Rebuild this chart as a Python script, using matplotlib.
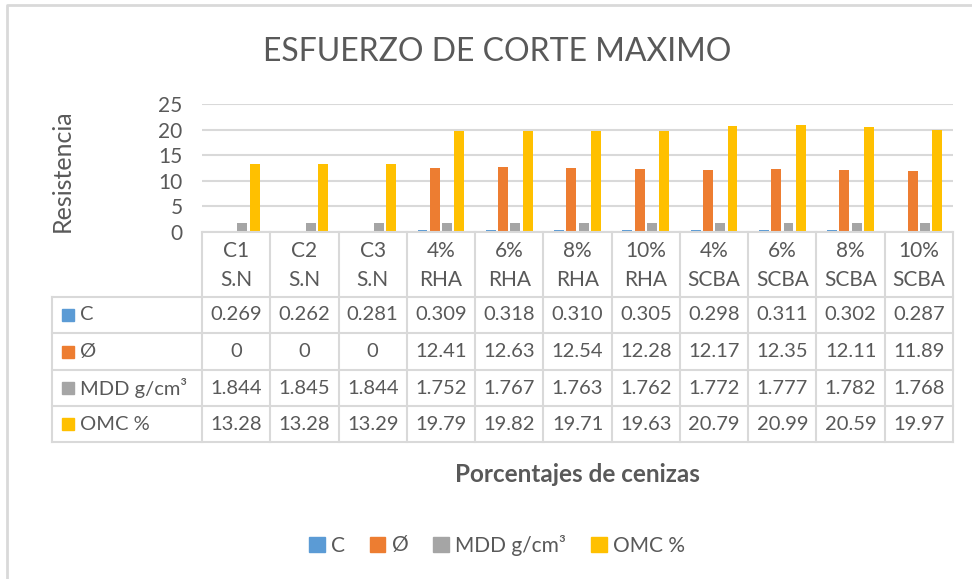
import matplotlib.pyplot as plt
from matplotlib.lines import Line2D
from matplotlib.patches import Rectangle
import numpy as np

plt.rcParams['font.family'] = ['Lato', 'DejaVu Sans']

# data
categories = ["C1\nS.N", "C2\nS.N", "C3\nS.N", "4%\nRHA", "6%\nRHA", "8%\nRHA", "10%\nRHA",
              "4%\nSCBA", "6%\nSCBA", "8%\nSCBA", "10%\nSCBA"]
c_vals = [0.269, 0.262, 0.281, 0.309, 0.318, 0.310, 0.305, 0.298, 0.311, 0.302, 0.287]
phi_vals = [0, 0, 0, 12.41, 12.63, 12.54, 12.28, 12.17, 12.35, 12.11, 11.89]
mdd_vals = [1.844, 1.845, 1.844, 1.752, 1.767, 1.763, 1.762, 1.772, 1.777, 1.782, 1.768]
omc_vals = [13.28, 13.28, 13.29, 19.79, 19.82, 19.71, 19.63, 20.79, 20.99, 20.59, 19.97]

series_names = ["C", "Ø", "MDD g/cm³", "OMC %"]
series_vals = [c_vals, phi_vals, mdd_vals, omc_vals]
series_fmt = ["{:.3f}", "{:g}", "{:.3f}", "{:.2f}"]
colors = ["#5b9bd5", "#ed7d31", "#a5a5a5", "#ffc000"]

W, H = 972, 579
txt = "#595959"
grid = "#d9d9d9"

def fx(px):
    return px / W

def fy(py):
    return 1 - py / H

fig = plt.figure(figsize=(W / 100, H / 100), dpi=100)

x_left, x_right = 202, 953
y_top, y_zero = 104, 232
ax = fig.add_axes([fx(x_left), fy(y_zero), (x_right - x_left) / W, (y_zero - y_top) / H])

x = np.arange(len(categories))
bw = 0.145
step = 0.18
for k, (vals, col) in enumerate(zip(series_vals, colors)):
    ax.bar(x + (k - 1.5) * step, vals, width=bw, color=col, zorder=3)

ax.set_xlim(-0.5, len(categories) - 0.5)
ax.set_ylim(0, 25)
ax.set_yticks([0, 5, 10, 15, 20, 25])
ax.yaxis.grid(True, color=grid, linewidth=1.5, zorder=0)
ax.set_xticks([])
ax.tick_params(axis='y', length=0, labelsize=15, labelcolor=txt, pad=14)
for s in ax.spines.values():
    s.set_visible(False)
fig.text(fx(62), fy(171), "Resistencia", rotation=90, ha='center', va='center',
         fontsize=18, color=txt)

# table drawn in figure pixel coords
colw = (x_right - x_left) / len(categories)
tab_left = 52
row_edges = [297, 333, 370, 406, 442]
lw = 1.5
tfs = 14.5

def hline(y, x0, x1):
    fig.add_artist(Line2D([fx(x0), fx(x1)], [fy(y), fy(y)], color=grid, lw=lw))

def vline(x0, y0, y1):
    fig.add_artist(Line2D([fx(x0), fx(x0)], [fy(y0), fy(y1)], color=grid, lw=lw))

hline(y_zero, x_left, x_right)
for y in row_edges:
    hline(y, tab_left, x_right)
for i in range(len(categories) + 1):
    vline(x_left + i * colw, y_zero, row_edges[-1])
vline(tab_left, row_edges[0], row_edges[-1])

for i, cat in enumerate(categories):
    cx = x_left + (i + 0.5) * colw
    top, bot = cat.split("\n")
    fig.text(fx(cx), fy(251), top, ha='center', va='center', fontsize=15, color=txt)
    fig.text(fx(cx), fy(280), bot, ha='center', va='center', fontsize=15, color=txt)

for r, (name, vals, fmt, col) in enumerate(zip(series_names, series_vals, series_fmt, colors)):
    cy = (row_edges[r] + row_edges[r + 1]) / 2
    fig.add_artist(Rectangle((fx(62), fy(cy + 6)), 12 / W, 12 / H, color=col))
    fig.text(fx(80), fy(cy), name, ha='left', va='center', fontsize=tfs, color=txt)
    for i, v in enumerate(vals):
        cx = x_left + (i + 0.5) * colw
        fig.text(fx(cx), fy(cy), fmt.format(v), ha='center', va='center', fontsize=tfs, color=txt)

fig.text(fx(577), fy(474), "Porcentajes de cenizas", ha='center', va='center',
         fontsize=17.5, fontweight='bold', color=txt)

fig.text(fx(497), fy(52), "ESFUERZO DE CORTE MAXIMO", ha='center', va='center',
         fontsize=23, color=txt)

# legend
handles = [Rectangle((0, 0), 1, 1, color=c) for c in colors]
fig.legend(handles, series_names, loc='center', bbox_to_anchor=(fx(497), fy(545)), ncol=4,
           frameon=False, fontsize=15, labelcolor=txt, handlelength=0.75, handleheight=0.75,
           handletextpad=0.3, columnspacing=1.2)

# chart border (left/top visible)
fig.add_artist(Line2D([fx(7), fx(7), fx(980)], [fy(600), fy(5), fy(5)], color=grid, lw=2))

fig.savefig("out.png", dpi=100)
plt.close()
